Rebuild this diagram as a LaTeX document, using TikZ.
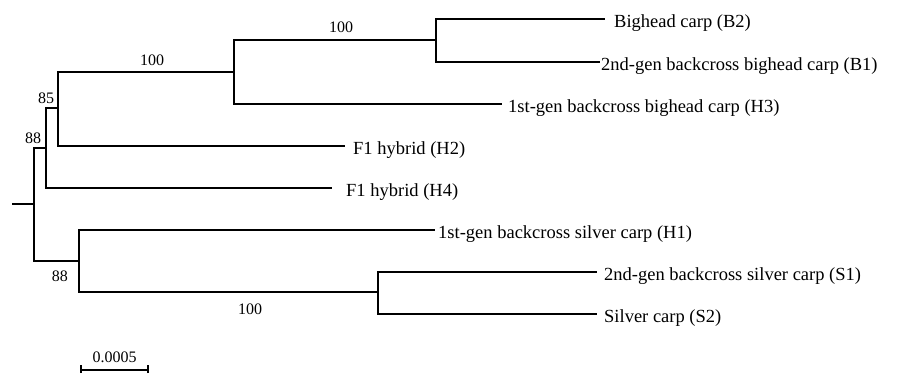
\documentclass[tikz,border=0pt]{standalone}
\usepackage{fontspec}
\setmainfont{Liberation Serif}
\begin{document}
\begin{tikzpicture}[x=1pt,y=-1pt,
  branch/.style={line width=2pt},
  leaf/.style={anchor=base west,inner sep=0pt,font=\fontsize{18.5}{22}\selectfont},
  boot/.style={anchor=base,inner sep=0pt,font=\fontsize{16}{19}\selectfont}]
\useasboundingbox (0,0) rectangle (898,375);
% internal nodes
\coordinate (stub) at (12,204);
\coordinate (root) at (34,204);
\coordinate (n88) at (46,148);
\coordinate (n85) at (58,108);
\coordinate (nA) at (234,72);
\coordinate (nB) at (436,40);
\coordinate (nL) at (79,261);
\coordinate (nS) at (378,292);
% leaf tips
\coordinate (B2t) at (605,19);
\coordinate (B1t) at (600,62);
\coordinate (H3t) at (502,104);
\coordinate (H2t) at (345,146);
\coordinate (H4t) at (332,188);
\coordinate (H1t) at (435,230);
\coordinate (S1t) at (597,272);
\coordinate (S2t) at (597,314);
% leaf labels
\node[leaf] (B2) at (614,27) {Bighead carp (B2)};
\node[leaf] (B1) at (601,70) {2nd-gen backcross bighead carp (B1)};
\node[leaf] (H3) at (508,112) {1st-gen backcross bighead carp (H3)};
\node[leaf] (H2) at (353,154) {F1 hybrid (H2)};
\node[leaf] (H4) at (346,196) {F1 hybrid (H4)};
\node[leaf] (H1) at (438,238) {1st-gen backcross silver carp (H1)};
\node[leaf] (S1) at (604,280) {2nd-gen backcross silver carp (S1)};
\node[leaf] (S2) at (604,322) {Silver carp (S2)};
% branches
\draw[branch] (stub) -- (root);
\draw[branch] (root) |- (n88);
\draw[branch] (root) |- (nL);
\draw[branch] (n88) |- (n85);
\draw[branch] (n88) |- (H4t);
\draw[branch] (n85) |- (nA);
\draw[branch] (n85) |- (H2t);
\draw[branch] (nA) |- (nB);
\draw[branch] (nA) |- (H3t);
\draw[branch] (nB) |- (B2t);
\draw[branch] (nB) |- (B1t);
\draw[branch] (nL) |- (H1t);
\draw[branch] (nL) |- (nS);
\draw[branch] (nS) |- (S1t);
\draw[branch] (nS) |- (S2t);
% bootstrap values
\node[boot] (b1) at (341,32) {100};
\node[boot] (b2) at (152,65) {100};
\node[boot] (b3) at (46,103) {85};
\node[boot] (b4) at (33,143) {88};
\node[boot] (b5) at (60,281) {88};
\node[boot] (b6) at (250,314) {100};
% scale bar
\coordinate (sL) at (81,370);
\coordinate (sR) at (148,370);
\draw[branch] (sL) -- (sR);
\draw[branch] ([yshift=-3pt]sL) -- ([yshift=5pt]sL);
\draw[branch] ([yshift=-3pt]sR) -- ([yshift=5pt]sR);
\node[boot] (scale) at (114.5,362) {0.0005};
\end{tikzpicture}
\end{document}
